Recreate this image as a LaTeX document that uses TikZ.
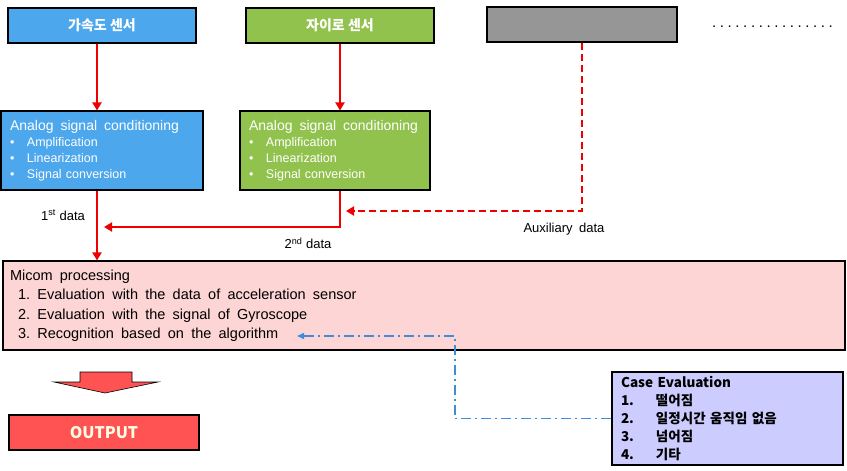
\documentclass[tikz,border=0pt]{standalone}
\usepackage{fontspec}
\setmainfont{Liberation Sans}
\newfontfamily\kfont{Noto Sans CJK KR}
\usetikzlibrary{arrows.meta}
\definecolor{accblue}{HTML}{4DA7EC}
\definecolor{gyrogreen}{HTML}{92C24E}
\definecolor{auxgray}{HTML}{969696}
\definecolor{micompink}{HTML}{FDD5D5}
\definecolor{caseblue}{HTML}{CCCCFF}
\definecolor{outred}{HTML}{FF5252}
\definecolor{linered}{HTML}{EE0000}
\definecolor{lineblue}{HTML}{3C8DDA}

\newcommand{\widesp}{\spaceskip=0.5em\relax}
\newcommand{\condlist}{{\fontsize{14}{16}\selectfont\widesp Analog signal conditioning}\\
	\makebox[17pt][l]{\textbullet}Amplification\\
	\makebox[17pt][l]{\textbullet}Linearization\\
	\makebox[17pt][l]{\textbullet}Signal conversion}

\begin{document}
\begin{tikzpicture}[x=1pt, y=-1pt,
	sensor/.style={draw, line width=1.1pt, minimum width=188pt, minimum height=35pt, text=white, font=\kfont\bfseries\fontsize{14}{16}\selectfont},
	cond/.style={draw, line width=1.1pt, minimum height=79pt, inner xsep=9pt, align=left, text=white, font=\fontsize{12.5}{16}\selectfont},
	redline/.style={draw=linered, line width=2.4pt, -{Triangle[length=8pt, width=9pt]}},
	label/.style={font=\fontsize{13}{15}\selectfont}]
	\useasboundingbox (0,0) rectangle (847,471);

	\node[sensor, fill=accblue] (acc) at (102,25.5) {가속도 센서};
	\node[sensor, fill=gyrogreen] (gyro) at (340,25.5) {자이로 센서};
	\node[sensor, fill=auxgray, minimum width=190pt] (aux) at (582,24.5) {};
	\node[font=\fontsize{15}{16}\selectfont] (more) at (772.5,27)
		{\foreach \i in {1,...,15}{.\hspace{3.6pt}}.};

	\node[cond, fill=accblue, text width=184pt] (cond1) at (102,150.5) {\condlist};
	\node[cond, fill=gyrogreen, text width=172pt] (cond2) at (335,150.5) {\condlist};

	\node[draw, line width=1.1pt, fill=micompink, minimum width=842pt, minimum height=89pt, inner xsep=7pt,
		text width=828pt, align=left, font=\fontsize{14.5}{19.5}\selectfont] (micom) at (424,305.5)
		{\widesp Micom processing\\
		\hspace*{8pt}1. Evaluation with the data of acceleration sensor\\
		\hspace*{8pt}2. Evaluation with the signal of Gyroscope\\
		\hspace*{8pt}3. Recognition based on the algorithm};

	\node[draw, line width=1.1pt, fill=caseblue, minimum width=231pt, minimum height=93pt, inner xsep=9pt,
		text width=213pt, align=left, font=\kfont\bfseries\fontsize{13.5}{18.2}\selectfont] (case) at (727.5,418.5)
		{Case Evaluation\\
		\makebox[35pt][l]{1.}떨어짐\\
		\makebox[35pt][l]{2.}일정시간 움직임 없음\\
		\makebox[35pt][l]{3.}넘어짐\\
		\makebox[35pt][l]{4.}기타};

	\node[draw, line width=1.1pt, fill=outred, minimum width=190pt, minimum height=35pt, text=white!90!yellow,
		font=\kfont\bfseries\fontsize{16}{18}\selectfont] (output) at (104,432.5) {OUTPUT};

	\node[label] (first) at (63,215) {1\textsuperscript{st} data};
	\node[label] (second) at (308,243) {2\textsuperscript{nd} data};
	\node[label] (auxlabel) at (564,229) {\widesp Auxiliary data};

	\coordinate (merge) at (104,227);
	\coordinate (auxin) at (346,211);
	\coordinate (algo) at (297,336);
	\coordinate (bend) at (455,336);

	% Draw the data paths
	\draw[redline] ([xshift=-5pt]acc.south) -- ([xshift=-5pt]cond1.north);
	\draw[redline] (gyro.south) -- (gyro.south |- cond2.north);
	\draw[redline] ([xshift=-5pt]cond1.south) -- ([xshift=-5pt]cond1.south |- micom.north);
	\draw[redline] (gyro.south |- cond2.south) |- (merge);
	\draw[redline, dash pattern=on 7pt off 4pt] (aux.south) |- (auxin);
	\draw[draw=lineblue, line width=1.5pt, dash pattern=on 10pt off 4pt on 2pt off 4pt,
		-{Triangle[length=7pt, width=6pt]}] (case.west) -| (bend) -- (algo);

	% Draw the block arrow to the output
	\filldraw[fill=outred, draw=black, line width=0.6pt] (80,372) -- (132,372) -- (132,382) -- (158,382)
		-- (105,393) -- (54,382) -- (80,382) -- cycle;
\end{tikzpicture}
\end{document}
